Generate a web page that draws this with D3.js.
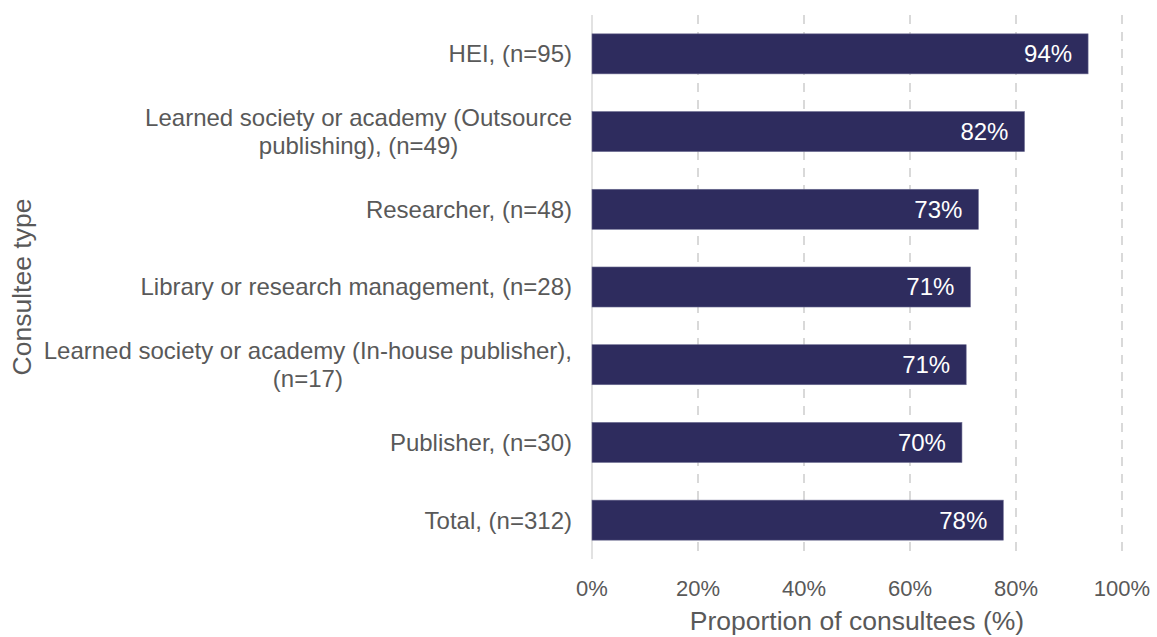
<!DOCTYPE html>
<html>
<head>
<meta charset="utf-8">
<script src="https://cdn.jsdelivr.net/npm/d3@7"></script>
<style>
  html, body { margin: 0; padding: 0; background: #fff; }
  svg { display: block; font-family: "Liberation Sans", Arial, sans-serif; }
</style>
</head>
<body>
<div id="chart"><svg width="1157" height="637"></svg></div>
<script>
// category labels, already broken into lines as in the original
const categories = [
    ["HEI, (n=95)"],
    ["Learned society or academy (Outsource", "publishing), (n=49)"],
    ["Researcher, (n=48)"],
    ["Library or research management, (n=28)"],
    ["Learned society or academy (In-house publisher),", "(n=17)"],
    ["Publisher, (n=30)"],
    ["Total, (n=312)"]
];
const values = [93.6, 81.6, 72.9, 71.4, 70.6, 69.8, 77.6];
const xTicks = [0, 20, 40, 60, 80, 100];

const svg = d3.select("#chart").select("svg");
const margin = { left: 592, right: 35, top: 15, bottom: 78 };
const width = +svg.attr("width");
const height = +svg.attr("height");
const innerW = width - margin.left - margin.right;
const innerH = height - margin.top - margin.bottom;

const g = svg.append("g").attr("transform", `translate(${margin.left},${margin.top})`);

const x = d3.scaleLinear().domain([0, 100]).range([0, innerW]);
const y = d3.scaleBand()
    .domain(d3.range(categories.length))
    .range([0, innerH])
    .paddingInner(0.485)
    .paddingOuter(0.2425);

// dashed gridlines
g.selectAll(".grid")
    .data(xTicks.filter(d => d > 0))
    .join("line")
    .attr("x1", d => x(d)).attr("x2", d => x(d))
    .attr("y1", 0).attr("y2", innerH)
    .attr("stroke", "#d9d9d9")
    .attr("stroke-width", 2)
    .attr("stroke-dasharray", "9,8");

// zero axis line
g.append("line")
    .attr("x1", x(0)).attr("x2", x(0))
    .attr("y1", 0).attr("y2", innerH)
    .attr("stroke", "#d9d9d9")
    .attr("stroke-width", 1.5);

// bars
g.selectAll(".bar")
    .data(values)
    .join("rect")
    .attr("x", x(0))
    .attr("y", (d, i) => y(i))
    .attr("width", d => x(d) - x(0))
    .attr("height", y.bandwidth())
    .attr("fill", "#2e2c5e")
    .attr("stroke", "#6b6a90")
    .attr("stroke-width", 0.6);

// value labels
g.selectAll(".val")
    .data(values)
    .join("text")
    .attr("x", d => x(d) - 16)
    .attr("y", (d, i) => y(i) + y.bandwidth() / 2)
    .attr("dy", "0.35em")
    .attr("text-anchor", "end")
    .attr("font-size", "24px")
    .attr("fill", "#fff")
    .text(d => Math.round(d) + "%");

// category labels: block right-aligned, lines centred within the block
const lineH = 28;
const cat = g.selectAll(".cat")
    .data(categories)
    .join("text")
    .attr("text-anchor", "middle")
    .attr("font-size", "24px")
    .attr("fill", "#595959");
cat.each(function (lines, i) {
    const t = d3.select(this);
    const spans = lines.map((line, k) =>
        t.append("tspan")
            .attr("y", (k - (lines.length - 1) / 2) * lineH)
            .attr("dy", "0.35em")
            .text(line));
    const maxW = d3.max(spans, s => s.node().getComputedTextLength());
    spans.forEach(s => s.attr("x", -20 - maxW / 2));
    t.attr("transform", `translate(0,${y(i) + y.bandwidth() / 2})`);
});

// x tick labels
g.selectAll(".tick-label")
    .data(xTicks)
    .join("text")
    .attr("x", d => x(d))
    .attr("y", innerH + 37)
    .attr("text-anchor", "middle")
    .attr("font-size", "22px")
    .attr("fill", "#595959")
    .text(d => d + "%");

// axis titles
svg.append("text")
    .attr("x", margin.left + innerW / 2)
    .attr("y", 630)
    .attr("text-anchor", "middle")
    .attr("font-size", "26.5px")
    .attr("fill", "#595959")
    .text("Proportion of consultees (%)");

svg.append("text")
    .attr("transform", `translate(31,${margin.top + innerH / 2}) rotate(-90)`)
    .attr("text-anchor", "middle")
    .attr("font-size", "26.5px")
    .attr("fill", "#595959")
    .text("Consultee type");
</script>
</body>
</html>
